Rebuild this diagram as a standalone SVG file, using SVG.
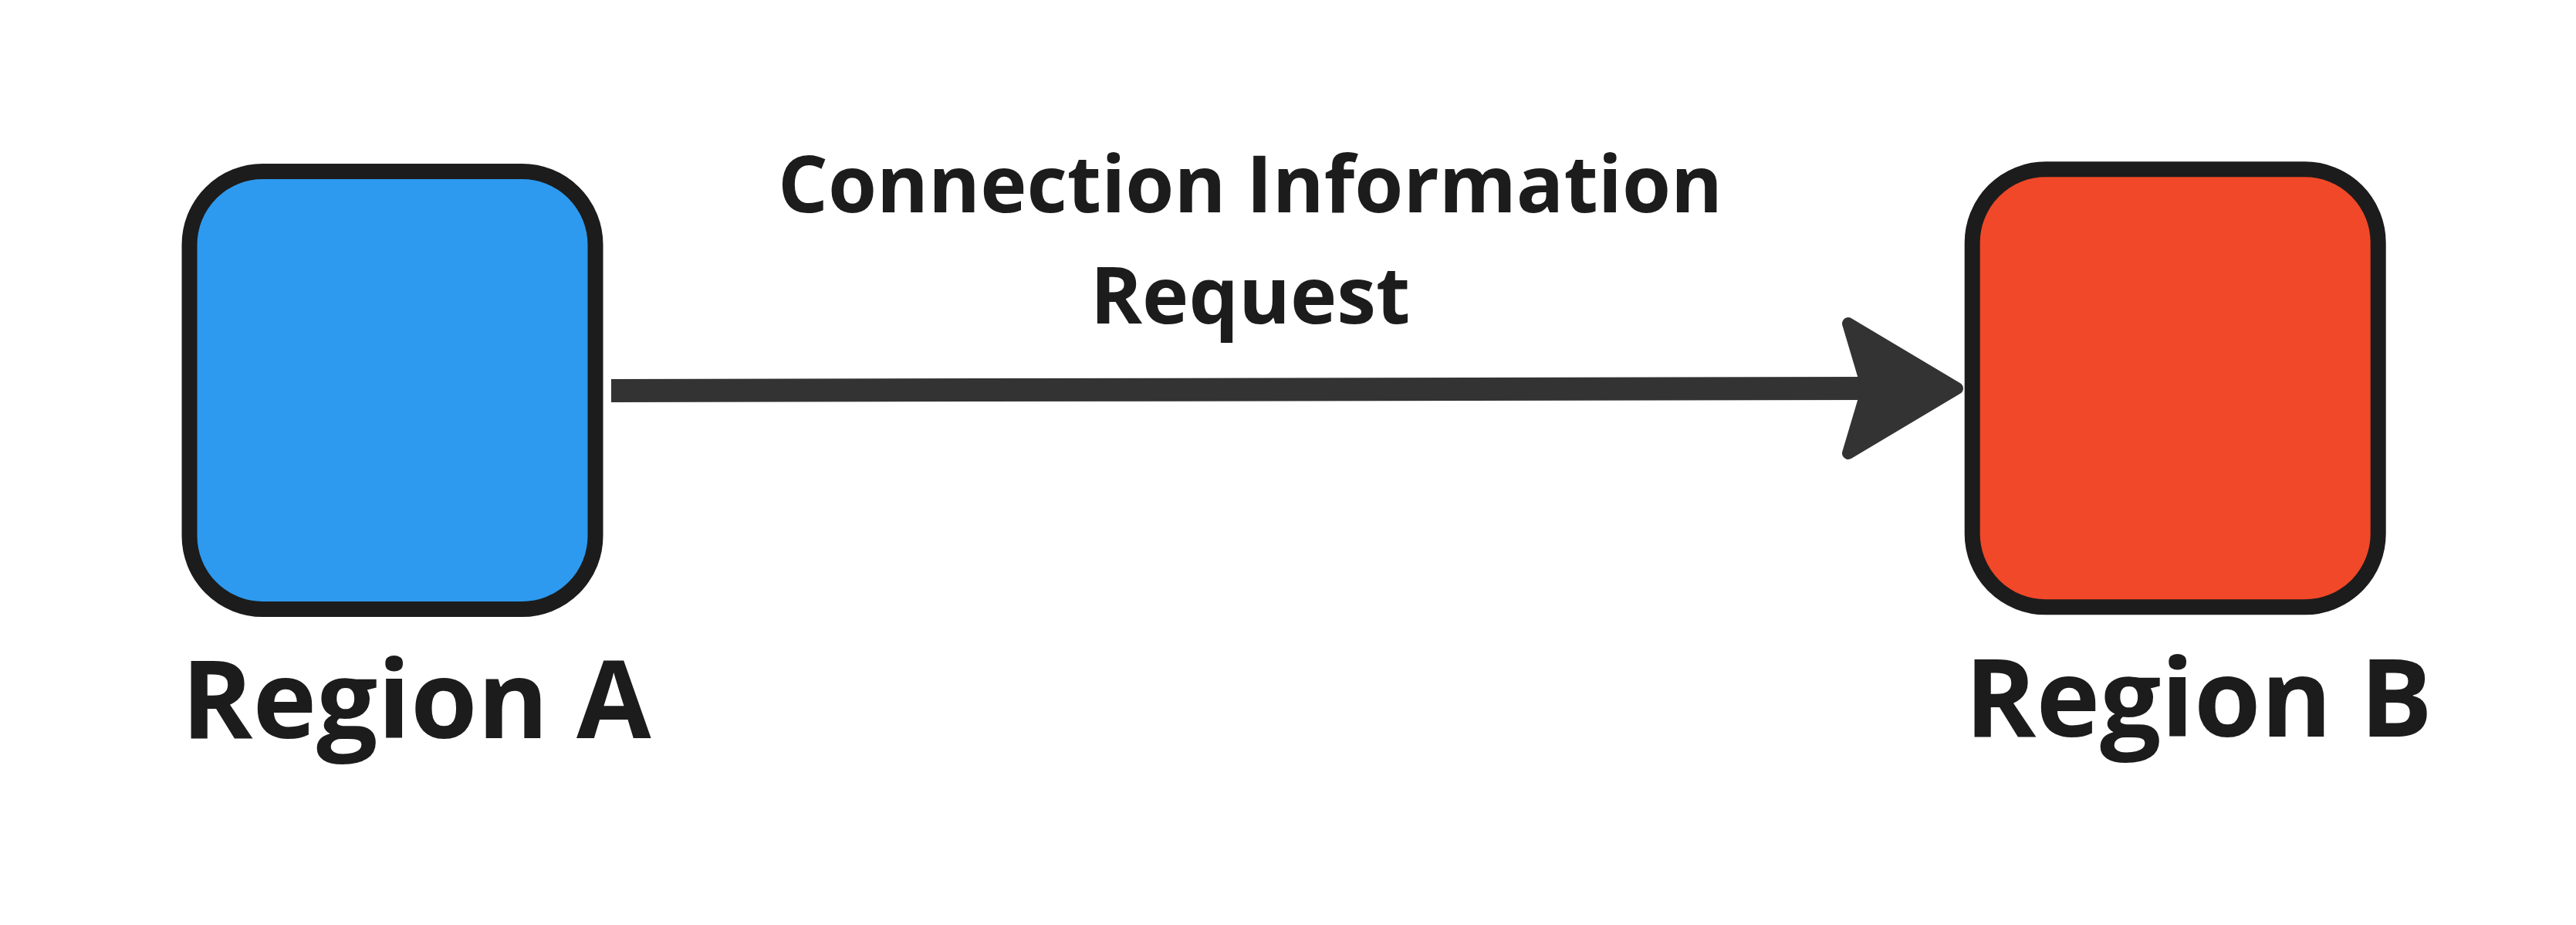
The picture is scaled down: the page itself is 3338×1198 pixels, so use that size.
<svg xmlns="http://www.w3.org/2000/svg" width="3338" height="1198" viewBox="0 0 3338 1198">
  <style>
    .box { stroke: #1c1c1c; stroke-width: 20; }
    .lbl { font-family: "Open Sans", "Liberation Sans", sans-serif; font-weight: 700; fill: #1c1c1c; }
    .big { font-size: 140px; }
    .edge { font-size: 102px; }
    .conn { stroke: #333333; stroke-width: 30; fill: none; }
    .head { fill: #333333; stroke: #333333; stroke-width: 16; stroke-linejoin: round; }
  </style>
  <rect width="3338" height="1198" fill="#ffffff"/>
  <g id="connectors">
    <path class="conn" d="M 792 506 L 2422 503"/>
    <polygon class="head" points="2536,503 2395,419 2420,503 2395,587"/>
    <text class="lbl edge" x="1620" y="275" text-anchor="middle">Connection Information</text>
    <text class="lbl edge" x="1620" y="419" text-anchor="middle">Request</text>
  </g>
  <g id="region-a">
    <rect class="box" x="245.5" y="222" width="526" height="567" rx="95" ry="95" fill="#2d9aef"/>
    <text class="lbl big" x="235" y="956">Region A</text>
  </g>
  <g id="region-b">
    <rect class="box" x="2555.7" y="219.3" width="526" height="567" rx="95" ry="95" fill="#f04828"/>
    <text class="lbl big" x="2546" y="954">Region B</text>
  </g>
</svg>
